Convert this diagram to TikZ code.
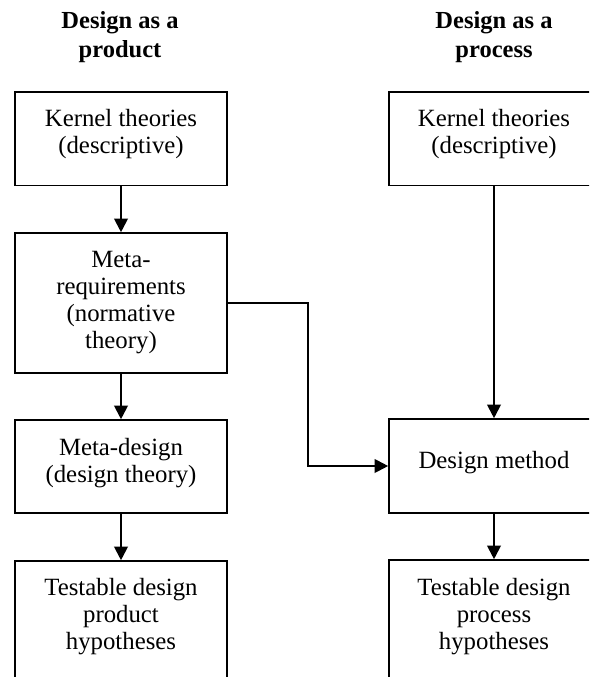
\documentclass[tikz,border=0pt]{standalone}
\usepackage{fontspec}
\setmainfont{Liberation Serif}
\usetikzlibrary{arrows.meta}
\newcommand{\strutA}[1]{\rule{0pt}{#1pt}}
\newcommand{\strutB}[1]{\rule[-#1pt]{0pt}{#1pt}}
\begin{document}
\begin{tikzpicture}[x=1pt,y=-1pt,
  box/.style={draw, line width=1.6pt, inner sep=0pt, align=center,
    font=\fontsize{24.8}{27}\selectfont},
  title/.style={inner sep=0pt, align=center, font=\fontsize{24.5}{29}\selectfont\bfseries},
  arr/.style={line width=2pt, -{Triangle[length=13.5pt,width=13.5pt]}}]
\useasboundingbox (0,0) rectangle (589,677);
\clip (0,0) rectangle (589,677);
% titles (first baseline 29, second 58)
\node[title] (t1) at (120,40) {\strutA{25}Design as a\\product\strutB{18}};
\node[title] (t2) at (494,40) {\strutA{25}Design as a\\process\strutB{18}};
% left column
\node[box, minimum width=212pt, minimum height=93.5pt] (kt1) at (121,138.75)
  {\strutA{20}Kernel theories\\(descriptive)\strutB{18.5}};
\node[box, minimum width=212pt, minimum height=140pt] (mr) at (121,303)
  {\strutA{27}Meta-\\requirements\\(normative\\theory)\strutB{18}};
\node[box, minimum width=212pt, minimum height=93pt] (md) at (121,466.5)
  {\strutA{22}Meta-design\\(design theory)\strutB{18}};
\node[box, minimum width=212pt, minimum height=139pt] (tp) at (121,630.5)
  {\strutA{20}Testable design\\product\\hypotheses\strutB{36}};
% right column
\node[box, minimum width=210pt, minimum height=93.5pt] (kt2) at (494,138.75)
  {\strutA{20}Kernel theories\\(descriptive)\strutB{18.5}};
\node[box, minimum width=210pt, minimum height=94pt] (dm) at (494,466)
  {\strutA{22}Design method\strutB{18}};
\node[box, minimum width=210pt, minimum height=140pt] (tr) at (494,630)
  {\strutA{20}Testable design\\process\\hypotheses\strutB{36}};
% connectors
\draw[arr] (kt1) -- (mr);
\draw[arr] (mr) -- (md);
\draw[arr] (md) -- (tp);
\draw[arr] (kt2) -- (dm);
\draw[arr] (dm) -- (tr);
\draw[arr] (mr.east) -- ++(80,0) |- (dm.west);
\end{tikzpicture}
\end{document}
